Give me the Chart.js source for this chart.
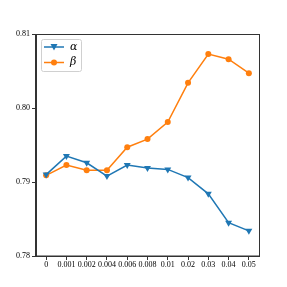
<!DOCTYPE html>
<html><head><meta charset="utf-8">
<script src="https://cdn.jsdelivr.net/npm/chart.js@4/dist/chart.umd.min.js"></script>
<style>html,body{margin:0;padding:0;background:#fff}#c{display:block}</style>
</head><body>
<canvas id="c" width="287" height="287" style="width:287px;height:287px"></canvas>
<script>
const categories = ['0','0.001','0.002','0.004','0.006','0.008','0.01','0.02','0.03','0.04','0.05'];
const alphaValues = [0.7910,0.7935,0.7926,0.7908,0.7923,0.7919,0.7917,0.7906,0.7884,0.7845,0.7834];
const betaValues  = [0.7909,0.7923,0.7916,0.7916,0.7947,0.7958,0.7981,0.8034,0.8073,0.8066,0.8047];
const yTicks = [0.78,0.79,0.80,0.81];
const seriesLabels = ['α','β'];

const FONT = "'Liberation Serif', 'Times New Roman', serif";

const framePlugin = {
  id: 'frame',
  afterDraw(chart) {
    const {ctx, chartArea: a} = chart;
    ctx.save();
    ctx.strokeStyle = '#333';
    ctx.lineWidth = 1;
    ctx.strokeRect(Math.round(a.left)-0.5, Math.round(a.top)+0.5, Math.round(a.right-a.left)+1, Math.round(a.bottom-a.top)-0.5);
    // legend
    const x0 = 41, y0 = 39, w = 40, h = 32;
    ctx.beginPath();
    ctx.roundRect(x0+0.5, y0+0.5, w, h, 2);
    ctx.fillStyle = 'rgba(255,255,255,0.8)';
    ctx.fill();
    ctx.strokeStyle = '#d0d0d0';
    ctx.stroke();
    chart.data.datasets.forEach((ds, i) => {
      const yy = y0 + 8 + i * 15.5;
      ctx.strokeStyle = ds.borderColor;
      ctx.lineWidth = 1.5;
      ctx.beginPath(); ctx.moveTo(44, yy); ctx.lineTo(64, yy); ctx.stroke();
      ctx.fillStyle = ds.borderColor;
      if (i === 0) {
        ctx.beginPath(); ctx.moveTo(50.5, yy-3); ctx.lineTo(57.5, yy-3); ctx.lineTo(54, yy+3.5); ctx.closePath(); ctx.fill();
      } else {
        ctx.beginPath(); ctx.arc(54, yy, 3, 0, Math.PI*2); ctx.fill();
      }
      ctx.fillStyle = '#000';
      ctx.font = "italic 11px 'DejaVu Serif', 'DejaVu Sans', serif";
      ctx.textBaseline = 'middle';
      ctx.textAlign = 'left';
      ctx.fillText(ds.label, 70, yy);
    });
    ctx.restore();
  }
};

new Chart(document.getElementById('c'), {
  type: 'line',
  data: {
    labels: categories,
    datasets: [
      { label: seriesLabels[0], data: alphaValues, borderColor: '#1f77b4', backgroundColor: '#1f77b4',
        borderWidth: 1.5, pointStyle: 'triangle', rotation: 180, pointRadius: 4, pointBorderWidth: 0, tension: 0 },
      { label: seriesLabels[1], data: betaValues, borderColor: '#ff7f0e', backgroundColor: '#ff7f0e',
        borderWidth: 1.5, pointStyle: 'circle', pointRadius: 3, pointBorderWidth: 0, tension: 0 }
    ]
  },
  options: {
    responsive: false,
    animation: false,
    devicePixelRatio: 1,
    layout: { padding: { left: 0, top: 34, right: 28, bottom: 0 } },
    plugins: { legend: { display: false }, tooltip: { enabled: false } },
    scales: {
      x: {
        type: 'category', offset: true,
        grid: { drawOnChartArea: false, drawTicks: true, tickLength: 4, color: '#333', offset: false },
        border: { color: '#333', width: 1 },
        ticks: { color: '#000', font: { family: FONT, size: 8 }, padding: 0, maxRotation: 0, autoSkip: false },
        afterFit(s) { s.height = 31; }
      },
      y: {
        min: 0.78, max: 0.81,
        afterBuildTicks(s) { s.ticks = yTicks.map(v => ({ value: v })); },
        grid: { drawOnChartArea: false, drawTicks: true, tickLength: 4, color: '#333' },
        border: { color: '#333', width: 1 },
        ticks: { color: '#000', font: { family: FONT, size: 8 }, padding: 2, callback: v => v.toFixed(2) },
        afterFit(s) { s.width = 36; }
      }
    }
  },
  plugins: [framePlugin]
});
</script>
</body></html>
